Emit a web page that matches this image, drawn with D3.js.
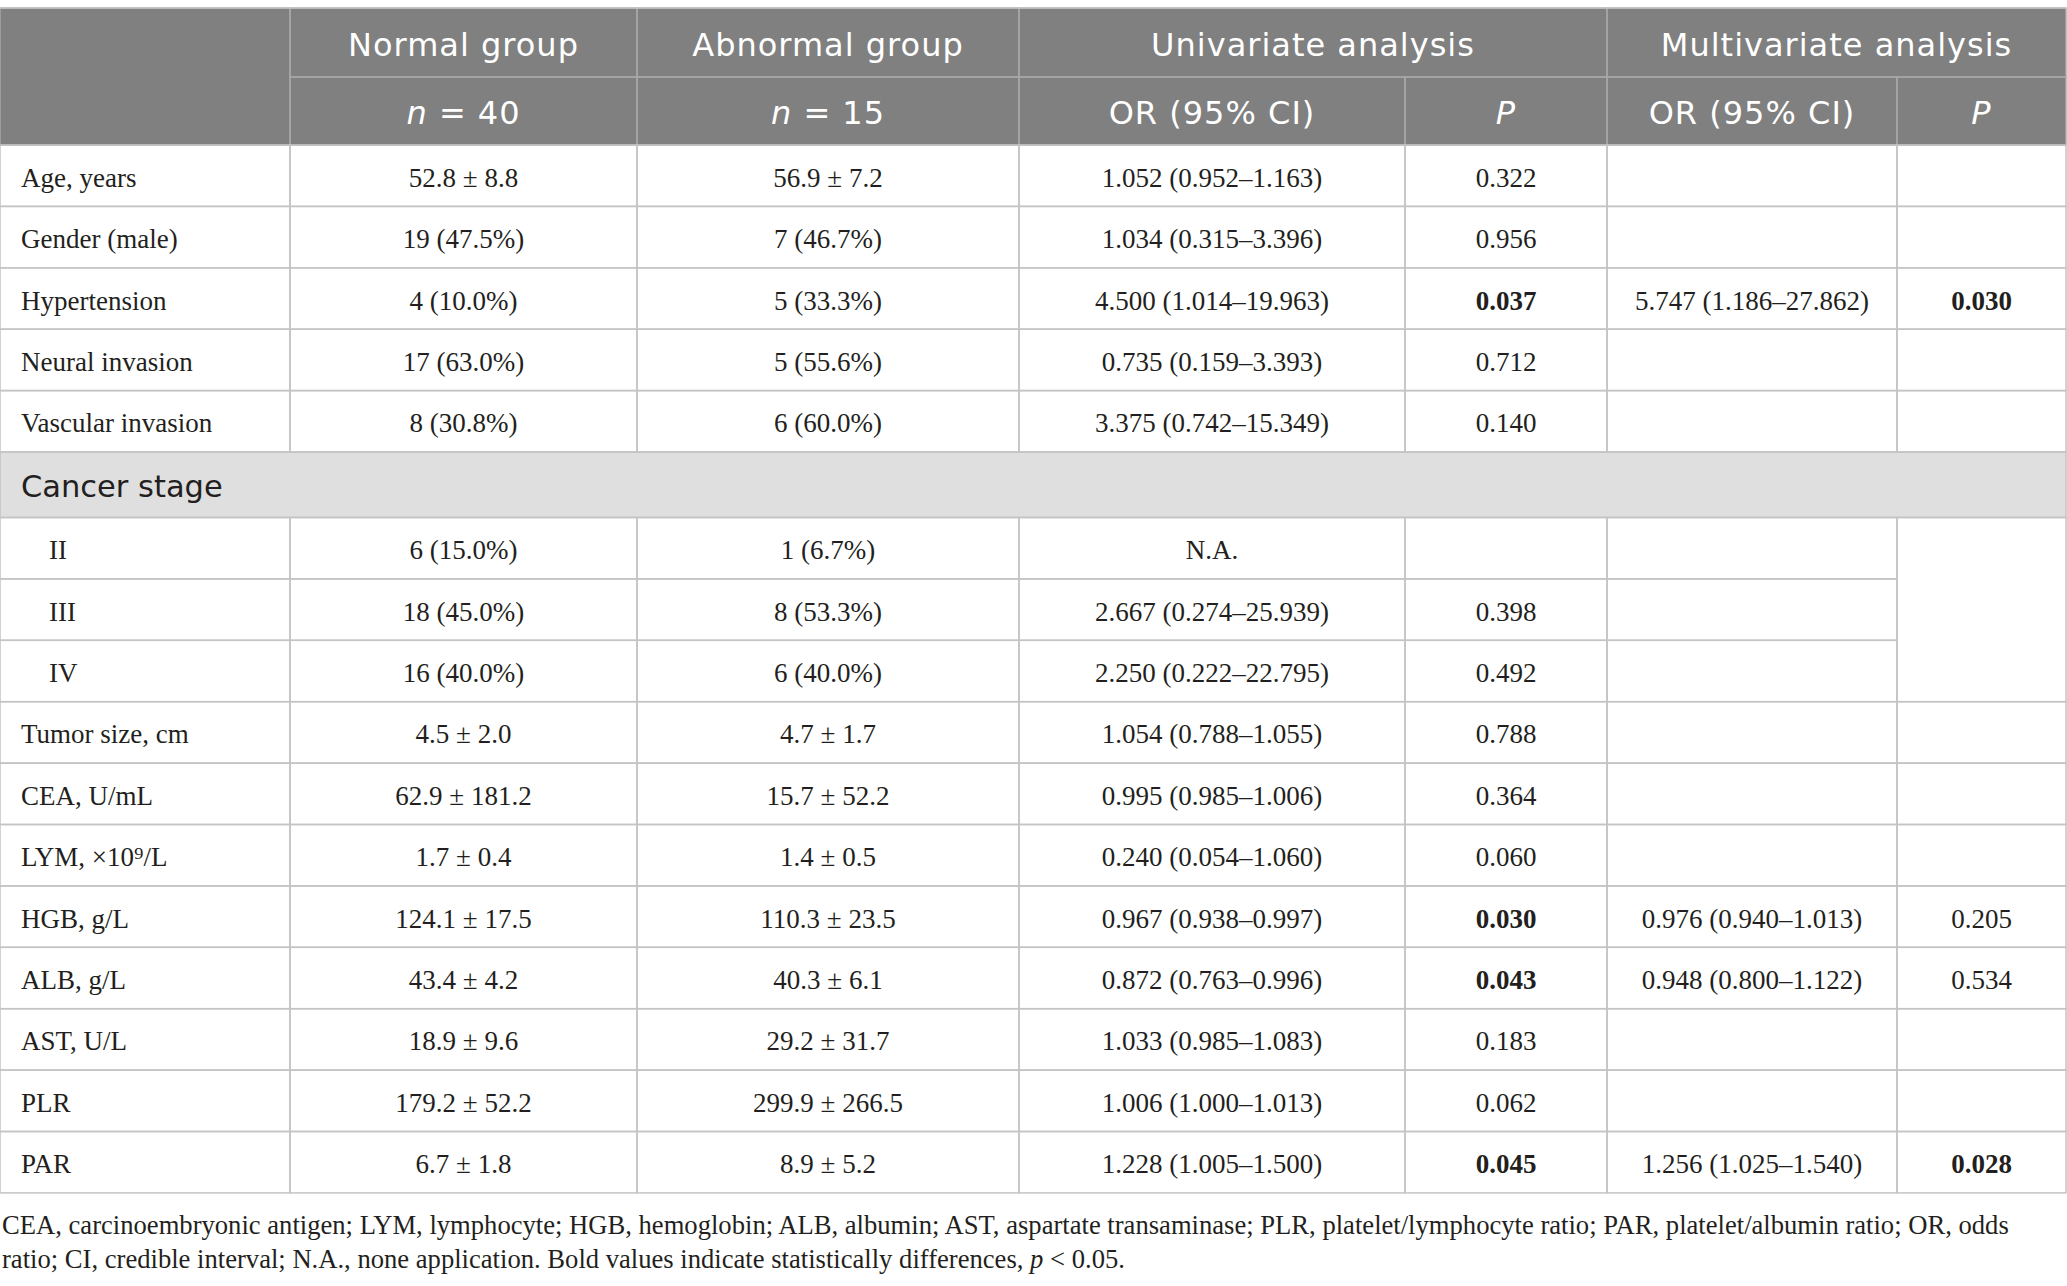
<!DOCTYPE html>
<html lang="en">
<head>
<meta charset="UTF-8">
<title>Univariate and multivariate analysis</title>
<style>
  html, body { margin: 0; padding: 0; background: #fff; }
  svg { display: block; }
</style>
</head>
<body>
<div id="table"></div>
<script src="https://cdn.jsdelivr.net/npm/d3@7"></script>
<script>
const rowLabels = ["Age, years", "Gender (male)", "Hypertension", "Neural invasion", "Vascular invasion",
  "II", "III", "IV", "Tumor size, cm", "CEA, U/mL", "LYM, ×10⁹/L", "HGB, g/L", "ALB, g/L",
  "AST, U/L", "PLR", "PAR"];
const normalGroup = ["52.8 ± 8.8", "19 (47.5%)", "4 (10.0%)", "17 (63.0%)", "8 (30.8%)",
  "6 (15.0%)", "18 (45.0%)", "16 (40.0%)", "4.5 ± 2.0", "62.9 ± 181.2", "1.7 ± 0.4",
  "124.1 ± 17.5", "43.4 ± 4.2", "18.9 ± 9.6", "179.2 ± 52.2", "6.7 ± 1.8"];
const abnormalGroup = ["56.9 ± 7.2", "7 (46.7%)", "5 (33.3%)", "5 (55.6%)", "6 (60.0%)",
  "1 (6.7%)", "8 (53.3%)", "6 (40.0%)", "4.7 ± 1.7", "15.7 ± 52.2", "1.4 ± 0.5",
  "110.3 ± 23.5", "40.3 ± 6.1", "29.2 ± 31.7", "299.9 ± 266.5", "8.9 ± 5.2"];
const uniOR = ["1.052 (0.952–1.163)", "1.034 (0.315–3.396)", "4.500 (1.014–19.963)",
  "0.735 (0.159–3.393)", "3.375 (0.742–15.349)", "N.A.", "2.667 (0.274–25.939)",
  "2.250 (0.222–22.795)", "1.054 (0.788–1.055)", "0.995 (0.985–1.006)", "0.240 (0.054–1.060)",
  "0.967 (0.938–0.997)", "0.872 (0.763–0.996)", "1.033 (0.985–1.083)", "1.006 (1.000–1.013)",
  "1.228 (1.005–1.500)"];
const uniP = ["0.322", "0.956", "0.037", "0.712", "0.140", "", "0.398", "0.492", "0.788",
  "0.364", "0.060", "0.030", "0.043", "0.183", "0.062", "0.045"];
const multiOR = ["", "", "5.747 (1.186–27.862)", "", "", "", "", "", "", "", "",
  "0.976 (0.940–1.013)", "0.948 (0.800–1.122)", "", "", "1.256 (1.025–1.540)"];
const multiP = ["", "", "0.030", "", "", "", "", "", "", "", "", "0.205", "0.534", "", "", "0.028"];

const groupTitle = "Cancer stage";
const stageRows = ["II", "III", "IV"];

// header cells: [first column, column span, text]; *x* marks italic
const headerTop = [[1, 1, "Normal group"], [2, 1, "Abnormal group"],
  [3, 2, "Univariate analysis"], [5, 2, "Multivariate analysis"]];
const headerSub = [[1, 1, "*n* = 40"], [2, 1, "*n* = 15"], [3, 1, "OR (95% CI)"],
  [4, 1, "*P*"], [5, 1, "OR (95% CI)"], [6, 1, "*P*"]];

const footnote = [
  "CEA, carcinoembryonic antigen; LYM, lymphocyte; HGB, hemoglobin; ALB, albumin; AST, aspartate transaminase; PLR, platelet/lymphocyte ratio; PAR, platelet/albumin ratio; OR, odds",
  "ratio; CI, credible interval; N.A., none application. Bold values indicate statistically differences, *p* < 0.05."
];

// ---- layout ----
const W = 2067, H = 1286;
const colEdges = [0, 290, 637, 1019, 1405, 1607, 1897, 2066];
const tableTop = 8;
const headH = [69, 68];
const rowH = 61.4, groupH = 65.5;

const sans = "'DejaVu Sans', sans-serif";
const serif = "'Liberation Serif', 'Times New Roman', serif";
const ink = "#231f20";
const headFill = "#7f807f", headLine = "#a7a8a7";
const gridLine = "#c4c4c4";

const svg = d3.select("#table").append("svg")
  .attr("width", W).attr("height", H);

// rich text helper: segments between * are italic
function rich(sel, str) {
  str.split("*").forEach((part, i) => {
    if (part === "") return;
    sel.append("tspan").attr("font-style", i % 2 ? "italic" : null).text(part);
  });
}

// ---- header ----
const hY = [tableTop, tableTop + headH[0], tableTop + headH[0] + headH[1]];
const header = svg.append("g");
header.append("rect")
  .attr("x", colEdges[0]).attr("y", hY[0])
  .attr("width", colEdges[7] - colEdges[0]).attr("height", hY[2] - hY[0])
  .attr("fill", headFill);

const headCells = [
  ...headerTop.map(d => ({ c: d[0], span: d[1], text: d[2], y0: hY[0], y1: hY[1] })),
  ...headerSub.map(d => ({ c: d[0], span: d[1], text: d[2], y0: hY[1], y1: hY[2] })),
  { c: 0, span: 1, text: "", y0: hY[0], y1: hY[2] }
];

header.selectAll("rect.hc").data(headCells).enter().append("rect")
  .attr("class", "hc")
  .attr("x", d => colEdges[d.c]).attr("y", d => d.y0)
  .attr("width", d => colEdges[d.c + d.span] - colEdges[d.c])
  .attr("height", d => d.y1 - d.y0)
  .attr("fill", "none").attr("stroke", headLine).attr("stroke-width", 1.4);

header.selectAll("text").data(headCells.filter(d => d.text)).enter().append("text")
  .attr("x", d => (colEdges[d.c] + colEdges[d.c + d.span]) / 2)
  .attr("y", d => (d.y0 + d.y1) / 2 + 13)
  .attr("text-anchor", "middle")
  .attr("font-family", sans).attr("font-size", 32)
  .attr("letter-spacing", 1)
  .attr("fill", "#fff")
  .each(function (d) { rich(d3.select(this), d.text); });

// top border
header.append("line")
  .attr("x1", colEdges[0]).attr("x2", colEdges[7])
  .attr("y1", tableTop).attr("y2", tableTop)
  .attr("stroke", "#c4c4c4").attr("stroke-width", 1.5);

// ---- body rows ----
const rows = [];
rowLabels.forEach((label, i) => {
  if (label === stageRows[0]) rows.push({ type: "group", text: groupTitle });
  rows.push({ type: "data", i: i, stage: stageRows.includes(label) });
});
const heights = rows.map(r => r.type === "group" ? groupH : rowH);
const starts = [0, ...d3.cumsum(heights)].map(v => hY[2] + v);
rows.forEach((r, k) => { r.y0 = starts[k]; r.y1 = starts[k + 1]; });

const y = d3.scaleOrdinal().domain(d3.range(rows.length)).range(starts);

const body = svg.append("g");
const cells = [];
rows.forEach((r, k) => {
  if (r.type === "group") {
    cells.push({ c: 0, span: 7, y0: r.y0, y1: r.y1, text: r.text, group: true });
    return;
  }
  const i = r.i;
  const vals = [rowLabels[i], normalGroup[i], abnormalGroup[i], uniOR[i], uniP[i], multiOR[i], multiP[i]];
  vals.forEach((v, c) => {
    if (r.stage && c === 6) return;   // merged cell drawn below
    cells.push({
      c: c, span: 1, y0: y(k), y1: y(k) + heights[k], text: v,
      bold: (c === 4 || c === 6) && v !== "" && +v < 0.05,
      indent: r.stage && c === 0
    });
  });
});
// merged last column for the stage rows
const stageK = rows.map((r, k) => r.stage ? k : -1).filter(k => k >= 0);
cells.push({ c: 6, span: 1, y0: rows[stageK[0]].y0, y1: rows[stageK[stageK.length - 1]].y1, text: "" });

body.selectAll("rect.fill").data(cells.filter(d => d.group)).enter().append("rect")
  .attr("class", "fill")
  .attr("x", d => colEdges[d.c]).attr("y", d => d.y0)
  .attr("width", d => colEdges[d.c + d.span] - colEdges[d.c])
  .attr("height", d => d.y1 - d.y0)
  .attr("fill", "#e0dfe0");

body.selectAll("rect.cell").data(cells).enter().append("rect")
  .attr("class", "cell")
  .attr("x", d => colEdges[d.c]).attr("y", d => d.y0)
  .attr("width", d => colEdges[d.c + d.span] - colEdges[d.c])
  .attr("height", d => d.y1 - d.y0)
  .attr("fill", "none").attr("stroke", gridLine).attr("stroke-width", 1.5);

body.selectAll("text").data(cells.filter(d => d.text)).enter().append("text")
  .attr("x", d => d.c === 0 ? (d.indent ? 49 : 21) : (colEdges[d.c] + colEdges[d.c + 1]) / 2)
  .attr("y", d => (d.y0 + d.y1) / 2 + (d.group ? 12 : 11))
  .attr("text-anchor", d => d.c === 0 ? "start" : "middle")
  .attr("font-family", d => d.group ? sans : serif)
  .attr("font-size", d => d.group ? 30.5 : 27)
  .attr("font-weight", d => d.bold ? "bold" : null)
  .attr("fill", ink)
  .text(d => d.text);

// ---- footnote ----
const noteTop = starts[starts.length - 1];
const note = svg.append("g");
const noteLines = note.selectAll("text").data(footnote).enter().append("text")
  .attr("x", 2)
  .attr("y", (d, i) => noteTop + 41 + i * 34)
  .attr("font-family", serif).attr("font-size", 27)
  .attr("fill", ink)
  .each(function (d) { rich(d3.select(this), d); });
// fit the first line to the table width
const len = noteLines.node().getComputedTextLength();
noteLines.attr("font-size", 27 * 2008 / len);
</script>
</body>
</html>
